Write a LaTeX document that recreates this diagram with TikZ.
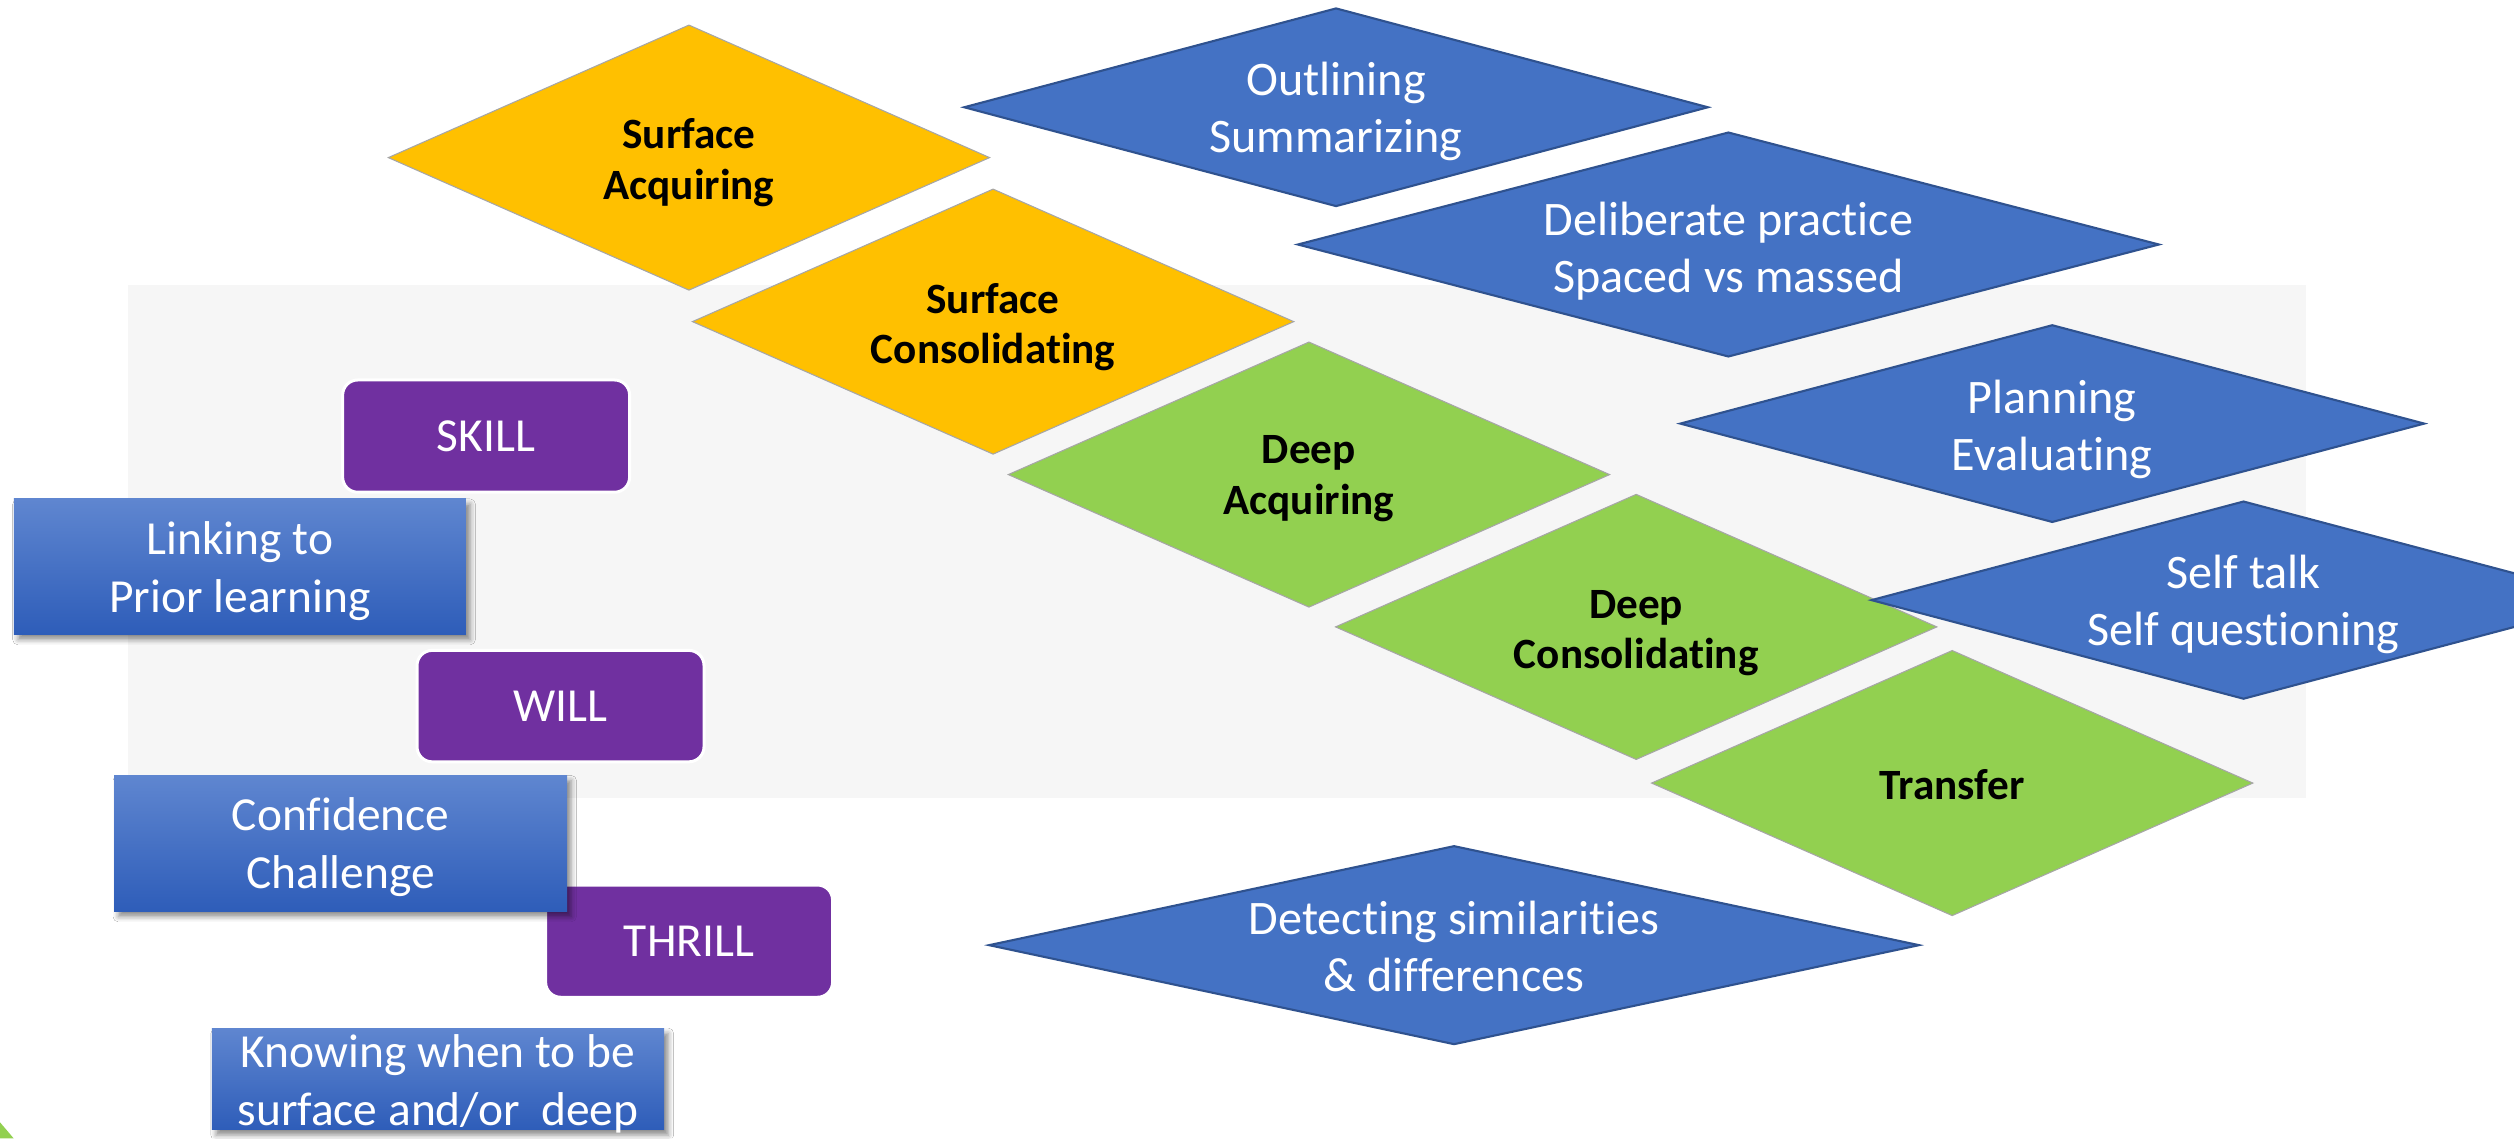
\documentclass[tikz,border=0pt]{standalone}
\usepackage{fontspec}
\setmainfont[Ligatures=NoCommon]{Carlito}
\usetikzlibrary{shapes.geometric,shadows.blur}

\definecolor{amber}{HTML}{FFC000}
\definecolor{leaf}{HTML}{92D050}
\definecolor{steel}{HTML}{4472C4}
\definecolor{steelline}{HTML}{2F528F}
\definecolor{plum}{HTML}{7030A0}
\definecolor{panel}{HTML}{F6F6F6}
\definecolor{boxtop}{RGB}{95,134,208}
\definecolor{boxbot}{RGB}{46,93,185}
\definecolor{rimgray}{HTML}{A6A6A6}

% one drawing unit
\def\pxu{0.016033cm}

\tikzset{
  stage/.style={diamond, inner sep=0pt, outer sep=0pt, draw=rimgray, line width=0.3pt,
    minimum width=375*\pxu, minimum height=165.3*\pxu},
  surf/.style={stage, fill=amber},
  deep/.style={stage, fill=leaf},
  tactic/.style={diamond, inner sep=0pt, outer sep=0pt, draw=steelline, line width=0.6pt, fill=steel},
  stagetext/.style={align=center, inner sep=0pt, text=black,
    font=\fontsize{12.3}{14.4}\selectfont\bfseries},
  tactictext/.style={align=center, inner sep=0pt, text=white,
    font=\fontsize{13.7}{16.3}\selectfont},
  motive/.style={rectangle, rounded corners=4.3pt, fill=plum, draw=white, line width=0.85pt,
    minimum width=179*\pxu, minimum height=70*\pxu, inner sep=0pt, text=white,
    font=\fontsize{13.5}{16.5}\selectfont},
  hint/.style={rectangle, top color=boxtop, bottom color=boxbot, inner sep=0pt,
    minimum width=282*\pxu,
    blur shadow={shadow xshift=1.2pt, shadow yshift=-1.5pt, shadow blur radius=1.5pt, shadow opacity=45}},
  hinttext/.style={align=center, inner sep=0pt, text=white,
    font=\fontsize{13.5}{16.5}\selectfont},
}

\begin{document}
\begin{tikzpicture}[x=\pxu, y=-\pxu]
  \clip (0,0) rectangle (1568,710);
  \fill[white] (0,0) rectangle (1568,710);

  % light panel behind the staircase
  \fill[panel] (80,178) rectangle (1438,498);

  % green corner of the slide frame
  \fill[leaf] (0,700) .. controls (3,703.5) and (6,707) .. (8.5,710) -- (0,710) -- cycle;

  % learning phases
  \node[surf] (sacq) at (429.7,98.3) {};
  \node[stagetext] (sacq-t) at (429.7,101.5) {Surface\\Acquiring};
  \node[surf] (scon) at (619.4,200.6) {};
  \node[stagetext] (scon-t) at (619.4,204) {Surface\\Consolidating};
  \node[deep] (dacq) at (816.4,296) {};
  \node[stagetext] (dacq-t) at (816.4,298.5) {Deep\\Acquiring};
  \node[deep] (dcon) at (1020.5,391) {};
  \node[stagetext] (dcon-t) at (1020.5,395) {Deep\\Consolidating};
  \node[deep] (trans) at (1217.6,488.4) {};
  \node[stagetext] (trans-t) at (1217.6,489.5) {Transfer};

  % strategies for each phase
  \node[tactic, minimum width=463.8*\pxu, minimum height=123.3*\pxu] (outl) at (833.3,66.9) {};
  \node[tactictext] (outl-t) at (833.3,69.5) {Outlining\\Summarizing};
  \node[tactic, minimum width=537*\pxu, minimum height=139.7*\pxu] (delib) at (1078,152.5) {};
  \node[tactictext] (delib-t) at (1078,156.5) {Deliberate practice\\Spaced vs massed};
  \node[tactic, minimum width=464*\pxu, minimum height=122.7*\pxu] (plan) at (1280,264.2) {};
  \node[tactictext] (plan-t) at (1280,268) {Planning\\Evaluating};
  \node[tactic, minimum width=464*\pxu, minimum height=123*\pxu] (self) at (1399.3,374.3) {};
  \node[tactictext] (self-t) at (1399.3,377) {Self talk\\Self questioning};
  \node[tactic, minimum width=580*\pxu, minimum height=123.5*\pxu] (detect) at (906.9,589.5) {};
  \node[tactictext] (detect-t) at (906.9,590.5) {Detecting similarities\\\&\ differences};

  % skill, will, thrill
  \node[motive] (skill) at (303.2,272) {SKILL};
  \node[hint, minimum height=84.4*\pxu] (link) at (149.6,353.4) {};
  \node[hinttext] (link-t) at (149.6,356) {Linking to\\Prior learning};
  \node[motive, minimum height=69.5*\pxu] (will) at (349.6,440.4) {WILL};
  \node[motive] (thrill) at (429.8,587) {THRILL};
  \node[hint, minimum width=282.5*\pxu, minimum height=84.7*\pxu] (conf) at (212.4,526) {};
  \node[hinttext] (conf-t) at (212.4,528.5) {Confidence\\Challenge};
  \node[hint, minimum height=63.5*\pxu] (know) at (273.2,673) {};
  \node[hinttext] (know-t) at (273.2,676) {Knowing when to be\\surface and/or~ deep};
\end{tikzpicture}
\end{document}
